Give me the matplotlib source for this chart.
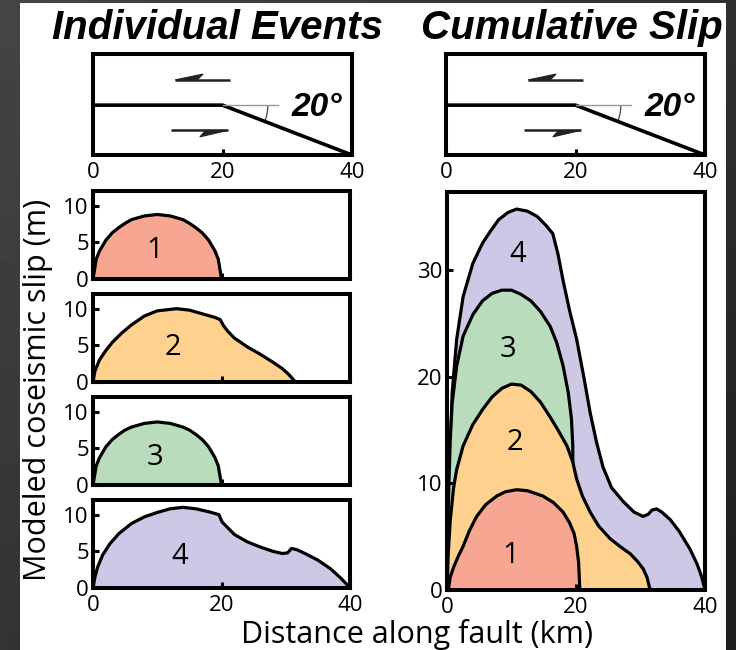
import numpy as np
import matplotlib.pyplot as plt
from matplotlib.patches import Arc, Polygon, Rectangle

# coseismic slip of each modeled event along strike: distance (km), slip (m)
ev1_x = [0, 0.5, 1, 2, 3, 4, 5, 6, 8, 10, 12, 14, 15, 16, 17, 18, 19, 19.5, 20]
ev1_y = [0, 2.7, 3.8, 5.3, 6.3, 7.0, 7.6, 8.1, 8.6, 8.8, 8.6, 8.1, 7.6, 7.0, 6.3, 5.3, 3.8, 2.7, 0]

ev2_x = [0, 0.3, 1, 2, 3, 4.5, 6, 8, 10, 13, 15, 17, 19, 19.8, 20.3, 21, 22, 24, 26, 28, 29.5, 30.5, 31.2, 31.5]
ev2_y = [0, 1.5, 3.0, 4.3, 5.4, 6.7, 7.8, 9.0, 9.7, 10.0, 9.8, 9.3, 8.8, 8.5, 7.7, 6.9, 6.0, 4.8, 3.8, 2.7, 1.8, 1.0, 0.3, 0]

ev3_x = [0, 0.5, 1, 2, 3, 4, 5, 6, 8, 10, 12, 14, 15, 16, 17, 18, 19, 19.5, 20]
ev3_y = [0, 2.6, 3.7, 5.2, 6.2, 6.9, 7.5, 7.9, 8.4, 8.6, 8.4, 7.9, 7.5, 6.9, 6.2, 5.2, 3.7, 2.6, 0]

ev4_x = [0, 0.3, 0.7, 1.5, 2.6, 4, 6, 8, 10, 12, 14, 16, 18, 19.6, 20.1, 21, 22, 24, 26, 28,
         29.5, 30.3, 30.9, 31.8, 33, 35, 37, 38.5, 39.5, 40]
ev4_y = [0, 1.5, 2.8, 4.5, 6.0, 7.4, 8.8, 9.7, 10.3, 10.8, 11.0, 10.8, 10.4, 10.0, 9.0, 8.2, 7.3, 6.3, 5.6, 5.0,
         4.7, 4.8, 5.4, 5.2, 4.7, 3.8, 2.6, 1.4, 0.5, 0]

# cumulative slip after each event
cum1_x = [0.2, 0.5, 1, 1.7, 2.5, 3.5, 4.6, 6, 7.7, 9, 10.8, 12.5, 14.9, 16.5, 18, 19, 19.7, 20.1, 20.4, 20.6]
cum1_y = [0, 1.2, 2.1, 3.1, 4.1, 5.6, 6.9, 8.0, 8.8, 9.2, 9.4, 9.3, 8.8, 8.2, 7.3, 6.3, 5.3, 4.1, 2.6, 0]

cum2_x = [0, 0.2, 0.5, 1, 1.5, 2.5, 4, 5.5, 7, 8.5, 10, 11.5, 13, 14.5, 16, 17.3, 18.6, 19.5, 20.1,
          21, 22.2, 23.5, 25.3, 27, 28.4, 29.5, 30.4, 31, 31.5]
cum2_y = [0, 3.5, 6.5, 9.5, 11.3, 13.5, 15.5, 16.9, 18.1, 18.9, 19.3, 19.2, 18.6, 17.6, 16.2, 14.9, 13.5, 12.0, 10.4,
          8.8, 7.3, 6.0, 4.8, 4.0, 3.4, 2.7, 2.0, 1.2, 0]

cum3_x = [0, 0.2, 0.5, 0.8, 1.5, 2.5, 4, 5.5, 7, 8.5, 10, 11.5, 13, 14.5, 16, 17, 18, 18.8, 19.3, 19.5, 19.5]
cum3_y = [0, 8, 14, 17.5, 21.0, 23.8, 25.8, 27.1, 27.8, 28.1, 28.1, 27.7, 27.1, 26.1, 24.7, 23.2, 21.0, 18.5, 16.0, 13.5, 0]

cum4_x = [0, 0.2, 0.5, 0.8, 1.5, 2.5, 4, 5.5, 6.7, 8, 9.5, 10.8, 12.5, 14, 15.3, 16.4, 17.2, 18, 19, 20.1,
          21.2, 22.2, 23.2, 24.2, 25.5, 27.3, 29, 30.4, 31.2, 31.8, 32.5, 33.3, 34.6, 36, 37.7, 38.8, 39.5, 40]
cum4_y = [0, 8, 13, 18.5, 23.5, 27.5, 30.6, 32.5, 33.6, 34.7, 35.4, 35.7, 35.5, 35.0, 34.2, 33.4, 31.5, 29, 26.2, 23.5,
          20, 16.6, 13.8, 11.5, 9.6, 8.3, 7.3, 6.9, 7.1, 7.5, 7.6, 7.3, 6.6, 5.5, 3.8, 2.4, 1.2, 0]

event_labels = ['1', '2', '3', '4']
event_label_pos = [(9.6, 3.9), (12.4, 4.7), (9.6, 3.8), (13.5, 4.3)]
cum_label_pos = [(9.8, 3.2), (10.5, 13.8), (9.5, 22.5), (11.0, 31.4)]
colors = ['#f7a692', '#fed18f', '#b8dcbc', '#ccc8e5']

# fault geometry: flat segment then a 20 degree ramp
fault_x = [0, 20, 40]
fault_z = [-7.9, -7.9, -15.6]
dip_label = '20°'

W, H = 736, 650
font = ['Open Sans', 'DejaVu Sans']
plt.rcParams['font.family'] = font


def box(x0, y0, x1, y1):
    return [x0 / W, 1 - y1 / H, (x1 - x0) / W, (y1 - y0) / H]


def style(ax):
    for s in ax.spines.values():
        s.set_linewidth(2.9)
    ax.tick_params(direction='in', length=4, width=2.2, labelsize=16)
    ax.tick_params(axis='x', pad=5)
    ax.tick_params(axis='y', pad=3)


def harpoon(ax, x_tail, x_tip, z, barb):
    # shaft plus a one-sided head that points from tail to tip
    back = 1 if x_tail > x_tip else -1
    ax.plot([x_tail, x_tip], [z, z], color='#222222', lw=1.8, solid_capstyle='butt')
    ax.add_patch(Polygon([(x_tip, z), (x_tip + back * 4.3, z + barb), (x_tip + back * 3.4, z)],
                         closed=True, fc='#222222', ec='#222222', lw=0.8))


def draw_geometry(ax):
    ax.plot(fault_x, fault_z, color='k', lw=2.6, solid_capstyle='butt')
    ax.plot([20, 28.6], [fault_z[0], fault_z[0]], color='#999999', lw=1.0)
    ax.add_patch(Arc((20, fault_z[0]), 14, 14, theta1=-20, theta2=0, color='#444444', lw=0.9))
    ax.text(34.6, fault_z[0] - 0.3, dip_label, fontsize=24, fontweight='bold', fontstyle='italic',
            family=['Liberation Sans', 'DejaVu Sans'], ha='center', va='center')
    harpoon(ax, 21.2, 12.7, -4.0, 0.9)
    harpoon(ax, 12.0, 20.8, -11.8, -1.0)
    ax.set_xlim(0, 40)
    ax.set_ylim(-15.6, 0)
    ax.set_yticks([])
    ax.set_xticks([0, 20, 40])
    style(ax)


fig = plt.figure(figsize=(W / 100, H / 100), dpi=100)

# dark backdrop with the white sheet on top
bg = fig.add_axes([0, 0, 1, 1], zorder=-10)
gy, gx = np.mgrid[0:1:50j, 0:1:50j]
shade = 0.27 - 0.07 * gy - 0.08 * gx
bg.imshow(shade, cmap='gray', vmin=0, vmax=1, extent=[0, 1, 0, 1], aspect='auto', origin='upper')
bg.add_patch(Rectangle((20 / W, 0), 706 / W, 647 / H, fc='white', ec='none'))
bg.set_xlim(0, 1)
bg.set_ylim(0, 1)
bg.axis('off')

# fault cross sections
draw_geometry(fig.add_axes(box(93, 54, 352, 155)))
draw_geometry(fig.add_axes(box(446, 54, 705, 155)))

# individual events
events = [(ev1_x, ev1_y), (ev2_x, ev2_y), (ev3_x, ev3_y), (ev4_x, ev4_y)]
tops = [191, 294, 397, 500]
for i, (xs, ys) in enumerate(events):
    ax = fig.add_axes(box(93, tops[i], 350, tops[i] + 88))
    ax.fill(xs, ys, fc=colors[i], ec='k', lw=2.3, joinstyle='round')
    ax.text(*event_label_pos[i], event_labels[i], fontsize=21, ha='center', va='center')
    ax.set_xlim(0, 40)
    ax.set_ylim(0, 12)
    ax.set_yticks([0, 5, 10])
    ax.set_xticks([0, 20, 40])
    if i < 3:
        ax.set_xticklabels([])
    style(ax)

# cumulative slip
ax = fig.add_axes(box(447, 192, 705, 590))
cums = [(cum1_x, cum1_y), (cum2_x, cum2_y), (cum3_x, cum3_y), (cum4_x, cum4_y)]
for i in range(3, -1, -1):
    xs, ys = cums[i]
    ax.fill(xs, ys, fc=colors[i], ec='k', lw=2.3, joinstyle='round')
    ax.text(*cum_label_pos[i], event_labels[i], fontsize=21, ha='center', va='center')
ax.set_xlim(0, 40)
ax.set_ylim(0, 37.3)
ax.set_yticks([0, 10, 20, 30])
ax.set_xticks([0, 20, 40])
style(ax)

title_font = ['Liberation Sans Narrow', 'Liberation Sans', 'DejaVu Sans']
fig.text(217 / W, 1 - 28 / H, 'Individual Events', fontsize=29, fontweight='bold', fontstyle='italic',
         family=title_font, ha='center', va='center')
fig.text(572 / W, 1 - 28 / H, 'Cumulative Slip', fontsize=29, fontweight='bold', fontstyle='italic',
         family=title_font, ha='center', va='center')
fig.text(417 / W, 1 - 635 / H, 'Distance along fault (km)', fontsize=22, ha='center', va='center')
fig.text(38 / W, 1 - 390 / H, 'Modeled coseismic slip (m)', fontsize=22, rotation=90,
         ha='center', va='center')

fig.savefig('out.png', dpi=100)
